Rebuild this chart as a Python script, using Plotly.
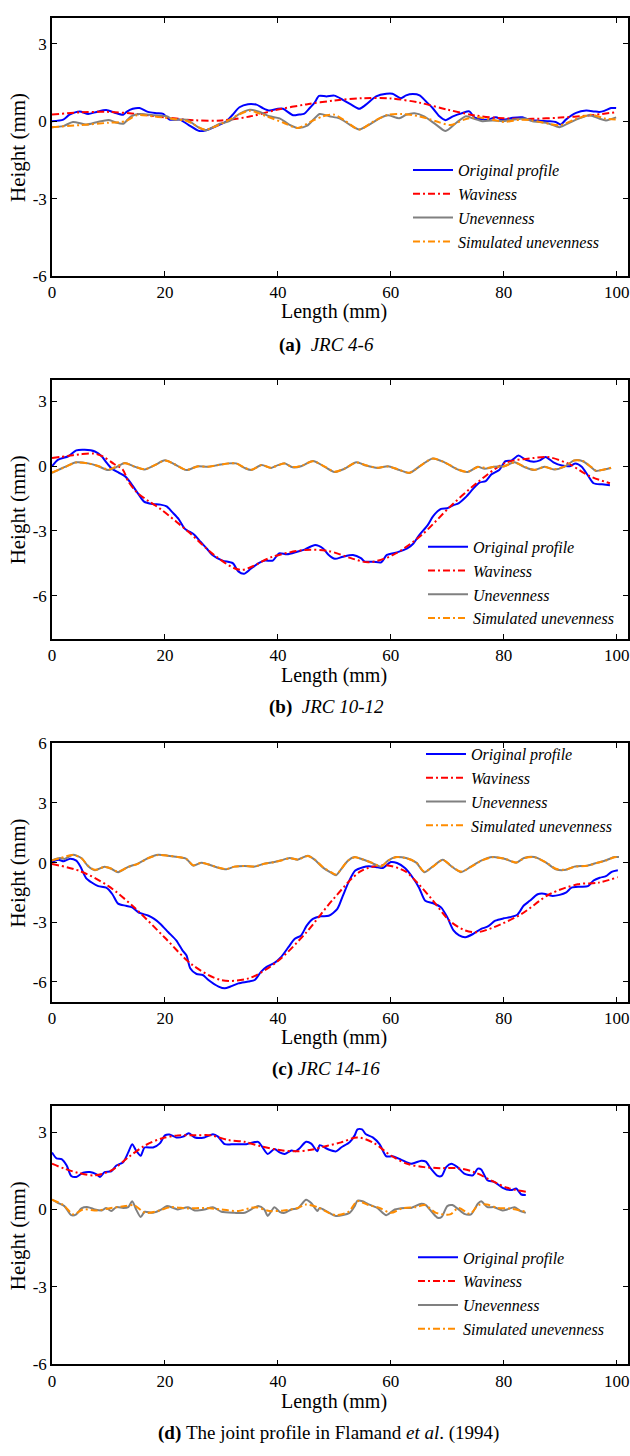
import plotly.graph_objects as go
from plotly.subplots import make_subplots

# ---------------- data ----------------
# Panel (a) JRC 4-6
xa_orig = [0,2,3.1,4.9,6.4,7.9,9.6,11.1,12.6,13.2,14.3,15.5,17,18.5,19.7,20.8,22.6,24.1,26.1,27.3,29.1,30.9,32,33.2,34.7,36.2,37.3,38.5,40,40.9,42.7,43.8,44.6,45.6,46.5,47.3,48.6,50,51.5,53,54.4,55.6,57.4,59.2,60.3,61.8,62.7,63.9,65.1,66.2,67.4,68.6,69.7,71,72.7,73.9,74.8,76,77.1,78.6,79.8,81.6,83.3,84.5,86.3,88.1,89.2,90.1,91,92.8,94.6,96,96.9,97.8,99,99.9]
ya_orig = [0.0,0.06,0.25,0.38,0.28,0.36,0.43,0.33,0.25,0.36,0.48,0.51,0.36,0.31,0.28,0.06,0.06,-0.13,-0.38,-0.35,-0.19,0.0,0.25,0.54,0.66,0.64,0.51,0.41,0.48,0.48,0.23,0.26,0.28,0.5,0.72,0.98,0.96,0.99,0.83,0.64,0.48,0.64,0.96,1.06,1.06,0.89,1.0,1.05,1.0,0.77,0.51,0.19,0.04,0.19,0.32,0.38,0.15,0.08,0.06,0.15,0.05,0.13,0.15,0.05,0.02,0.0,-0.03,-0.13,0.06,0.32,0.41,0.38,0.36,0.4,0.51,0.51]
xa_wav = [0,5,10,15,20,25,30,35,40,45,50,55,60,65,70,75,80,85,90,95,100]
ya_wav = [0.26,0.34,0.36,0.28,0.15,0.04,0.03,0.18,0.45,0.65,0.8,0.89,0.88,0.72,0.45,0.22,0.11,0.09,0.14,0.22,0.35]
xa_unev = [0,2,3.7,6.1,7.9,10,11.1,12.6,14,15.5,17.9,20.3,21.4,23.8,26.1,27.3,29.7,31.4,33.2,35,36.8,38.5,40.3,42,43.5,45.2,47.4,49.1,50.9,52.7,54.4,56.2,58,59.5,61.5,62.7,64.2,65.9,68,69.7,71.6,73.3,74.5,76.2,78,79.8,81.6,84,85.1,87.5,89.9,91.6,93.4,95.2,96.9,98.1,99.9]
ya_unev = [-0.23,-0.19,-0.03,-0.13,-0.04,0.05,-0.03,-0.1,0.19,0.28,0.23,0.19,0.06,0.06,-0.26,-0.35,-0.1,0.0,0.28,0.44,0.36,0.19,0.11,-0.13,-0.26,-0.17,0.28,0.19,0.11,-0.13,-0.32,-0.13,0.11,0.23,0.11,0.25,0.31,0.19,-0.13,-0.38,-0.06,0.19,0.11,0.0,0.03,0.0,0.06,0.1,0.0,-0.06,-0.23,-0.06,0.11,0.23,0.1,0.03,0.15]
xa_sim = [0,5,10,13,15,18,21,24,27,30,33,35,38,41,43.5,46,48,50,52,54.4,57,59.5,62,65,68,70.5,73,75,78,80,83,85,88,90,93,95.5,98,100]
ya_sim = [-0.23,-0.15,-0.06,0.0,0.23,0.19,0.1,0.0,-0.32,-0.1,0.25,0.4,0.19,-0.06,-0.26,0.0,0.19,0.25,0.0,-0.32,0.0,0.25,0.28,0.19,0.0,-0.15,0.06,0.15,0.06,-0.03,0.06,0.03,-0.1,-0.15,0.1,0.25,0.1,0.06]

# Panel (b) JRC 10-12
xb_orig = [0,1.1,2.9,4.3,5.8,7.6,8.8,9.7,10.6,11.8,12.9,13.8,15.3,16.3,17.8,19.2,20.3,21.3,22.4,23.5,25.2,26.3,27.4,28.4,30.2,32,33,34,35.2,36.6,37.7,39.1,40.2,41.6,43.4,44.8,46.6,48,49,50.1,51.5,53.3,54.7,55.4,56.9,58.3,59.3,61.1,62.9,64,65,66.5,67.5,68.9,70,71.1,71.8,73.2,74.6,75.7,76.8,77.8,79.2,80.3,81.4,82.6,83.9,85.3,86.4,87.4,88.8,90.3,91.7,92.7,93.8,94.9,95.9,97.4,98.8]
yb_orig = [0.0,0.3,0.46,0.73,0.76,0.68,0.46,0.15,-0.12,-0.3,-0.46,-0.73,-1.29,-1.64,-1.75,-1.78,-1.86,-2.13,-2.44,-2.89,-3.17,-3.5,-3.81,-4.11,-4.37,-4.49,-4.87,-4.98,-4.75,-4.49,-4.37,-4.37,-4.04,-4.08,-3.96,-3.85,-3.65,-3.81,-4.11,-4.29,-4.19,-4.11,-4.26,-4.42,-4.42,-4.45,-4.11,-3.99,-3.81,-3.58,-3.2,-2.74,-2.31,-1.98,-1.95,-1.8,-1.75,-1.45,-1.04,-0.76,-0.69,-0.38,-0.18,0.23,0.27,0.49,0.3,0.21,0.27,0.43,0.18,0.03,0.0,0.12,-0.03,-0.43,-0.79,-0.84,-0.88]
xb_wav = [0,3,5,7.5,9,11,12.5,13.5,15,17,19.2,24.2,29.1,33.4,39.1,44.8,49,53.3,56.1,60.4,65.4,70.4,75.3,80.3,85.3,88.1,91.7,95.2,98.8]
yb_wav = [0.38,0.48,0.55,0.58,0.45,0.1,-0.15,-0.7,-1.2,-1.6,-1.98,-3.05,-4.19,-4.8,-4.19,-3.88,-3.93,-4.29,-4.45,-4.11,-3.2,-1.9,-0.76,0.15,0.38,0.41,0.08,-0.46,-0.79]
xb_unev = [0,2.3,4.3,6.4,8.2,9.9,11.1,12.9,14.4,16.4,18.2,20,21.7,23.8,25.8,27.6,29.4,31.2,32.6,34.1,35.3,37.1,38.8,40,41.2,42.6,44.1,46.2,48.3,50,51.8,53.9,55.6,57.7,59.5,61.2,63.3,65.4,67.4,69.5,71.8,73.6,75.4,76.6,78.3,80.1,81.9,83.6,85.4,87.2,88.9,90.7,92.5,94,95.4,96.3,97.8,99]
yb_unev = [-0.31,-0.03,0.18,0.13,0.0,-0.18,-0.08,0.15,0.0,-0.15,0.05,0.27,0.09,-0.18,0.0,-0.03,0.05,0.13,0.13,-0.08,-0.18,0.05,-0.08,0.05,0.13,-0.05,0.0,0.24,-0.03,-0.27,-0.12,0.18,0.03,-0.08,0.0,-0.15,-0.31,0.05,0.36,0.18,-0.15,-0.27,-0.03,-0.12,-0.03,0.0,0.18,-0.03,-0.18,-0.03,-0.15,-0.03,0.27,0.23,-0.03,-0.22,-0.15,-0.08]
xb_sim = [0,2.3,4.3,6.4,8.2,10,12.9,14.4,16.4,18.2,20,21.7,23.8,25.8,27.6,29.4,31.2,32.6,34.1,35.3,37.1,38.8,40,41.2,42.6,44.1,46.2,48.3,50,51.8,53.9,55.6,57.7,59.5,61.2,63.3,65.4,67.4,69.5,71.8,73.6,75.4,77,78.3,80.1,81.9,83.6,85.4,87.2,88.9,90.7,92.5,94,95.4,96.3,97.8,99]
yb_sim = [-0.3,-0.04,0.17,0.13,0.01,-0.15,0.14,0.01,-0.14,0.05,0.26,0.09,-0.17,-0.01,-0.03,0.05,0.12,0.13,-0.07,-0.17,0.05,-0.07,0.04,0.12,-0.04,0.01,0.23,-0.02,-0.26,-0.11,0.17,0.04,-0.07,-0.01,-0.14,-0.3,0.05,0.35,0.18,-0.14,-0.26,-0.04,-0.08,-0.03,0.0,0.17,-0.02,-0.17,-0.04,-0.14,-0.02,0.26,0.24,-0.02,-0.2,-0.15,-0.07]

# Panel (c) JRC 14-16
xc_orig = [0,1.1,2.1,3.2,4.3,5,6,7.1,8.2,9.6,10.7,11.7,13.1,14.2,15.3,17.1,18.1,19.2,20.6,22,23.1,23.8,24.5,25.6,26.7,27.7,29.5,30.6,31.6,33,34.8,35.9,37,38,39.4,40.5,41.9,43,44.1,45.1,46.2,47.6,49,50.5,51.5,52.6,53.7,55.1,56.1,57.6,58.6,60,61.1,62.5,63.9,65,66.1,67.5,68.9,70,71.1,72.1,73.2,74.6,76,77.1,78.5,80,81,82.4,83.5,84.6,86,87.1,88.5,89.9,91,92,93.5,94.9,95.9,97,98.1,99.1,100.2]
yc_orig = [0.03,0.15,0.07,0.2,0.1,-0.18,-0.76,-1.01,-1.18,-1.26,-1.59,-2.06,-2.17,-2.25,-2.5,-2.67,-2.83,-3.08,-3.5,-3.91,-4.41,-4.66,-5.32,-5.6,-5.65,-5.9,-6.23,-6.32,-6.23,-6.07,-5.98,-5.9,-5.49,-5.24,-5.04,-4.77,-4.24,-3.83,-3.66,-3.17,-2.83,-2.7,-2.67,-2.34,-1.67,-0.93,-0.4,-0.23,-0.18,-0.23,-0.27,0.03,-0.02,-0.27,-0.76,-1.26,-1.92,-2.04,-2.25,-2.75,-3.41,-3.66,-3.75,-3.58,-3.33,-3.22,-2.92,-2.8,-2.75,-2.62,-2.17,-1.92,-1.59,-1.56,-1.67,-1.62,-1.51,-1.26,-1.21,-1.18,-0.9,-0.76,-0.68,-0.46,-0.38]
xc_wav = [0,5,10,14.9,19.9,24.9,29.9,34.8,39.8,44.8,49.8,54.7,59,62.5,64.7,67.5,70.4,73.2,75.3,78.2,83.1,88.1,93.1,96.7,100.2]
yc_wav = [-0.07,-0.43,-1.18,-2.34,-3.75,-5.15,-5.9,-5.82,-4.99,-3.58,-1.84,-0.43,-0.13,-0.43,-1.01,-1.92,-2.92,-3.41,-3.5,-3.25,-2.59,-1.59,-1.09,-1.01,-0.73]
xc_unev = [0,1.4,2.3,3.7,5.2,6.4,7.6,9.3,10.5,11.7,13.5,15.2,17,18.8,20.5,22.3,23.8,25,26.4,27.6,29.4,30.9,32.3,34.1,35.9,37.6,39.4,40.6,42.1,43.5,45.3,46.5,48,49.4,50.3,51.2,52.4,53.6,54.8,56.5,58.3,59.5,60.9,62.7,64.5,65.9,67.4,69.2,70.7,72.4,74.2,76,78,80.1,82.2,83.6,85.4,87.5,89.2,91,92.5,94.8,96.6,98.1,99.6,100.4]
yc_unev = [0.12,0.23,0.19,0.4,0.23,-0.18,-0.38,-0.21,-0.31,-0.48,-0.21,-0.05,0.23,0.4,0.35,0.28,0.19,-0.15,0.0,-0.08,-0.25,-0.33,-0.2,-0.17,-0.2,-0.05,0.03,0.12,0.23,0.15,0.35,0.15,-0.25,-0.5,-0.63,-0.33,0.1,0.28,0.18,0.0,-0.2,0.1,0.28,0.23,0.0,-0.48,-0.2,0.15,-0.18,-0.48,-0.2,0.1,0.28,0.2,0.0,0.23,0.28,0.0,-0.33,-0.36,-0.2,-0.15,0.0,0.12,0.28,0.28]
xc_sim = [0,1.4,3.7,5.2,6.4,7.6,9.3,10.5,11.7,13.5,15.2,17,18.8,20.5,22.3,23.8,25,26.4,27.6,29.4,30.9,32.3,34.1,35.9,37.6,39.4,40.6,42.1,43.5,45.3,46.5,48,49.4,50.3,51.2,52.4,53.6,54.8,56.5,58.3,59.5,60.9,62.7,64.5,65.9,67.4,69.2,70.7,72.4,74.2,76,78,80.1,82.2,83.6,85.4,87.5,89.2,91,92.5,94.8,96.6,98.1,99.6,100.4]
yc_sim = [0.1,0.22,0.38,0.22,-0.16,-0.36,-0.22,-0.3,-0.45,-0.22,-0.06,0.22,0.38,0.35,0.28,0.18,-0.13,-0.01,-0.08,-0.24,-0.32,-0.2,-0.17,-0.19,-0.06,0.03,0.11,0.22,0.16,0.33,0.16,-0.23,-0.48,-0.6,-0.33,0.09,0.27,0.19,0.01,-0.18,0.09,0.27,0.23,0.01,-0.45,-0.21,0.14,-0.17,-0.45,-0.21,0.09,0.27,0.2,0.01,0.22,0.27,0.01,-0.31,-0.35,-0.21,-0.16,-0.01,0.11,0.27,0.28]

# Panel (d) Flamand et al. (1994)
xd_orig = [0,0.8,1.7,2.6,3.4,4.3,5.5,6.7,7.9,8.5,9.3,10.5,11.4,12.6,13.5,14.2,14.9,15.7,16.4,17.9,19.1,20,20.8,22,23.2,24.2,25.3,27,28.5,29.4,30.6,32.3,34.4,36.5,37.3,38.2,39.4,40.3,41.2,42.4,43.2,43.8,45,45.9,47,47.4,48.8,50.3,51.2,52.7,53.6,54.1,54.9,55.6,56.8,58,59.2,60.3,61.8,63.6,65.4,66.2,67.1,68.3,69,69.8,70.7,71.8,73,74.5,75.4,76,77.1,78.3,79.8,81.3,82.2,83.1,83.9]
yd_orig = [2.21,1.98,1.95,1.7,1.3,1.26,1.42,1.45,1.36,1.26,1.45,1.48,1.7,1.83,2.21,2.53,2.28,2.08,2.4,2.4,2.56,2.87,2.9,2.79,2.82,2.95,2.79,2.79,2.91,2.82,2.53,2.53,2.53,2.62,2.4,2.15,2.34,2.21,2.15,2.28,2.26,2.36,2.62,2.55,2.25,2.49,2.34,2.25,2.4,2.6,2.87,3.1,3.1,2.91,2.79,2.53,2.06,2.06,1.93,1.77,1.89,1.85,1.58,1.3,1.3,1.64,1.77,1.64,1.39,1.32,1.58,1.55,1.13,1.07,0.84,0.75,0.81,0.58,0.56]
xd_wav = [0,2.2,4.6,7.6,10.5,13.5,16.4,19.4,22.3,25.3,28.2,31.2,34.1,37.1,40,43,45.9,48.8,51.2,54.1,57,60,62.9,65.9,68.8,71.8,74.7,77.7,80.6,83.9]
yd_wav = [1.77,1.58,1.42,1.32,1.51,2.02,2.47,2.75,2.87,2.87,2.87,2.69,2.62,2.44,2.31,2.25,2.31,2.47,2.6,2.79,2.57,2.09,1.77,1.64,1.6,1.6,1.45,1.13,0.84,0.69]
xd_unev = [0,1.1,2.2,3.4,4.3,5.2,6.4,7.6,8.8,9.6,10.5,11.4,12.6,13.5,14.2,14.9,15.7,16.4,17.9,19.4,20.3,21.5,22.3,24.1,25.3,27,28.5,30,32.3,34.1,36.5,37.6,38.2,39.4,40.3,41.2,42.4,43.5,45,45.9,47,47.4,48.8,50.3,52.7,53.6,54.1,55,55.9,57.6,59.2,60.7,62.5,63.6,65.4,66.2,67.4,68.3,69,70,70.9,71.8,73,74.2,75.4,76,77.1,78.3,79.8,80.6,81.9,82.8,83.9]
yd_unev = [0.38,0.25,0.13,-0.22,-0.19,0.04,0.09,0.0,-0.04,0.06,-0.06,0.09,0.06,0.09,0.32,0.0,-0.29,-0.09,-0.13,0.0,0.13,0.06,0.0,0.09,-0.04,0.0,0.09,-0.09,-0.13,-0.13,0.13,0.0,-0.25,0.09,-0.09,-0.13,0.0,0.04,0.38,0.25,-0.06,0.06,-0.09,-0.25,-0.13,0.13,0.34,0.32,0.22,0.06,-0.22,0.0,0.06,0.06,0.22,0.17,-0.13,-0.32,-0.29,0.13,0.17,0.04,-0.17,-0.19,0.22,0.32,0.09,0.09,-0.04,0.0,0.09,-0.04,-0.13]
xd_sim = [0,2,3.8,5.5,8,10,13,14.5,16.5,19,21,24,27,30,33,36,38.5,41,43.5,45,47,49,50.3,52.5,54.1,56,58,60,62,64.5,66,68,70.5,72,74,75.5,77,79,81,83.9]
yd_sim = [0.38,0.17,-0.19,0.0,-0.04,0.04,0.13,0.17,-0.13,-0.04,0.09,0.04,0.06,0.0,-0.06,0.09,-0.06,-0.04,0.06,0.19,0.09,-0.13,-0.22,-0.09,0.32,0.17,0.06,-0.13,0.04,0.09,0.17,-0.13,-0.19,0.06,-0.17,0.17,0.19,0.06,0.04,-0.09]

series_names = ["Original profile", "Waviness", "Unevenness", "Simulated unevenness"]
x_ticks = [0, 20, 40, 60, 80, 100]
y_ticks_a = [3, 0, -3, -6]
y_ticks_c = [6, 3, 0, -3, -6]
y_ranges = [[-6, 4], [-8, 4], [-7, 6], [-6, 4]]
captions = [
    "<b>(a)</b>\u00a0\u00a0<i>JRC 4-6</i>",
    "<b>(b)</b>\u00a0\u00a0<i>JRC 10-12</i>",
    "<b>(c)</b>\u00a0<i>JRC 14-16</i>",
    "<b>(d)</b>\u00a0The joint profile in Flamand <i>et al</i>. (1994)",
]

panels = [
    (xa_orig, ya_orig, xa_wav, ya_wav, xa_unev, ya_unev, xa_sim, ya_sim),
    (xb_orig, yb_orig, xb_wav, yb_wav, xb_unev, yb_unev, xb_sim, yb_sim),
    (xc_orig, yc_orig, xc_wav, yc_wav, xc_unev, yc_unev, xc_sim, yc_sim),
    (xd_orig, yd_orig, xd_wav, yd_wav, xd_unev, yd_unev, xd_sim, yd_sim),
]

# ---------------- layout geometry (pixels) ----------------
W, H = 630, 1456
ML, MR = 52, 2
PW = W - ML - MR
plot_top = [9, 375.7, 744, 1111.7]
plot_bot = [270.7, 638.3, 1006, 1373.3]
xtitle_y = [307, 675, 1042, 1410.7]
caption_y = [340, 707, 1074, 1443]
caption_x = [326, 326, 326, 328]
legend_line_x = [411, 426, 424, 416]
legend_first_y = [170, 551.7, 761.7, 1271.7]

def ppy(py):
    return 1 - py / H

def ppx(px):
    return (px - ML) / PW

FONT = "Liberation Serif"
styles = [
    dict(color="#0000FF", width=2, dash="solid", shape="spline", smoothing=0.7),
    dict(color="#FF0000", width=2, dash="7px,3px,2px,3px", shape="spline", smoothing=0.9),
    dict(color="#808080", width=2, dash="solid", shape="spline", smoothing=0.7),
    dict(color="#FF8C00", width=2, dash="7px,3px,2px,3px", shape="spline", smoothing=0.8),
]

fig = make_subplots(rows=4, cols=1)
legend_keys = ["legend", "legend2", "legend3", "legend4"]

for i, p in enumerate(panels):
    for k in range(4):
        fig.add_trace(
            go.Scatter(x=p[2 * k], y=p[2 * k + 1], mode="lines", name=series_names[k],
                       line=styles[k], legend=legend_keys[i], showlegend=True),
            row=i + 1, col=1)

annotations = []
for i in range(4):
    ax = "" if i == 0 else str(i + 1)
    yt = y_ticks_c if i == 2 else y_ticks_a
    fig.layout["xaxis" + ax].update(
        domain=[0, 1], range=[0, 102], tickvals=x_ticks, ticktext=[str(v) for v in x_ticks],
        ticks="inside", ticklen=5, tickwidth=1.2, tickcolor="black",
        showline=True, linewidth=1.5, linecolor="black", mirror="ticks",
        showgrid=False, zeroline=False,
        tickfont=dict(family=FONT, size=17, color="black"))
    fig.layout["yaxis" + ax].update(
        domain=[ppy(plot_bot[i]), ppy(plot_top[i])], range=y_ranges[i],
        tickvals=yt, ticktext=[str(v) for v in yt],
        ticks="inside", ticklen=5, tickwidth=1.2, tickcolor="black",
        showline=True, linewidth=1.5, linecolor="black", mirror="ticks",
        showgrid=False, zeroline=False,
        tickfont=dict(family=FONT, size=17, color="black"))
    annotations.append(dict(text="Length (mm)", x=ppx(334), y=ppy(xtitle_y[i]), xref="paper", yref="paper",
                            xanchor="center", yanchor="middle", showarrow=False,
                            font=dict(family=FONT, size=20, color="black")))
    annotations.append(dict(text="Height (mm)", x=ppx(18), y=ppy((plot_top[i] + plot_bot[i]) / 2 + 1),
                            xref="paper", yref="paper", textangle=-90,
                            xanchor="center", yanchor="middle", showarrow=False,
                            font=dict(family=FONT, size=21, color="black")))
    annotations.append(dict(text=captions[i], x=ppx(caption_x[i]), y=ppy(caption_y[i]), xref="paper", yref="paper",
                            xanchor="center", yanchor="middle", showarrow=False,
                            font=dict(family=FONT, size=19, color="black")))
    fig.layout[legend_keys[i]] = dict(
        x=ppx(legend_line_x[i] - 3), y=ppy(legend_first_y[i] - 24), xanchor="left", yanchor="top",
        xref="paper", yref="paper", bgcolor="rgba(0,0,0,0)", borderwidth=0,
        font=dict(family=FONT, size=16, color="black", style="italic"),
        itemwidth=40, tracegroupgap=0)

fig.update_layout(
    width=W, height=H, margin=dict(l=ML, r=MR, t=0, b=0),
    paper_bgcolor="white", plot_bgcolor="white",
    annotations=annotations, showlegend=True)

fig.write_html("out.html")
